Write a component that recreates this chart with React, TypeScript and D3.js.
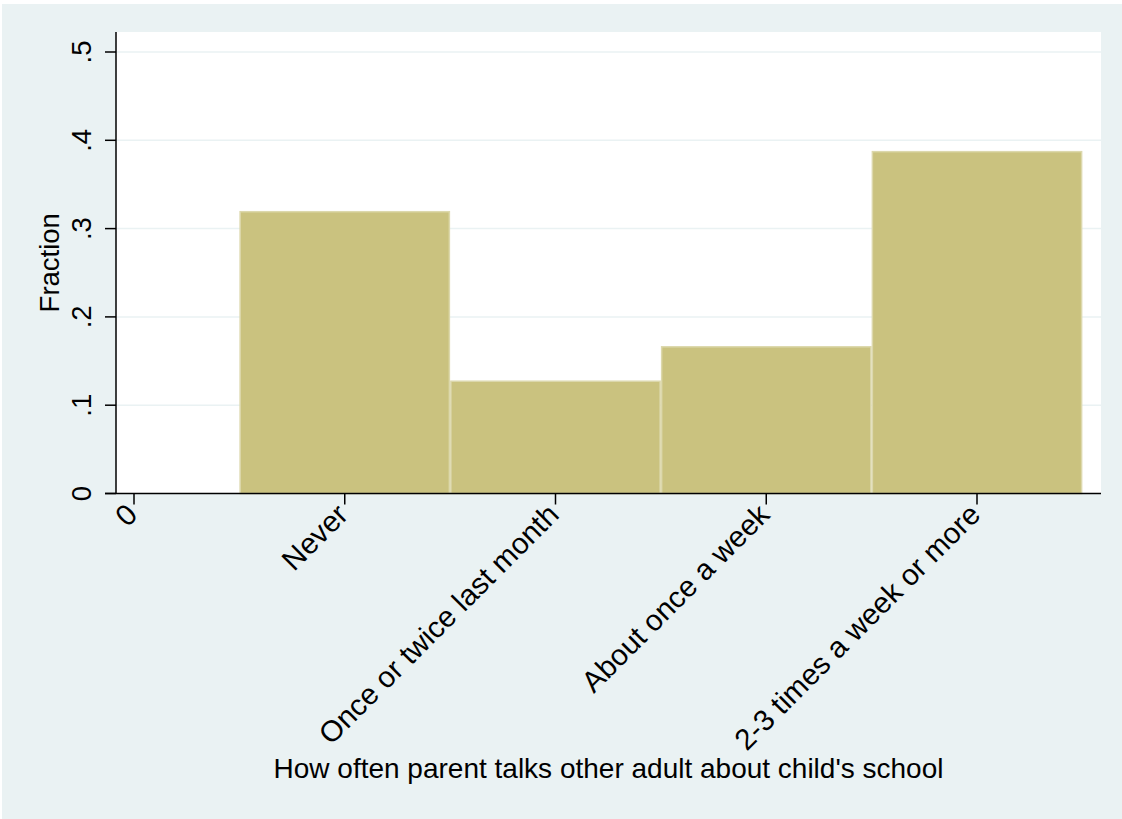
import React from "react";
import * as d3 from "d3";

const categories = ["0", "Never", "Once or twice last month", "About once a week", "2-3 times a week or more"];
const categoryValues = [0, 1, 2, 3, 4];
const barValues = [1, 2, 3, 4];
const fractions = [0.32, 0.128, 0.167, 0.388];
const yTicks = [0, 0.1, 0.2, 0.3, 0.4, 0.5];
const yTickLabels = ["0", ".1", ".2", ".3", ".4", ".5"];
const yTitle = "Fraction";
const xTitle = "How often parent talks other adult about child's school";

const W = 1122;
const H = 819;
const plotLeft = 116;
const plotRight = 1101;
const plotTop = 32;
const plotBottom = 493.5;
const bg = "#eaf2f3";
const font = "'Liberation Sans', Arial, Helvetica, sans-serif";

export default function App() {
  const x = d3.scaleLinear().domain([0, 4]).range([134, 977]);
  const y = d3.scaleLinear().domain([0, 0.5]).range([plotBottom, plotBottom - 5 * 88.3]);

  return (
    <div style={{ position: "fixed", left: 0, top: 0, width: W, height: H, background: "#fff" }}>
      <svg width={W} height={H} style={{ display: "block" }}>
        <rect x={2} y={4} width={W - 2} height={H - 4} fill={bg} />
        <rect x={plotLeft} y={plotTop} width={plotRight - plotLeft} height={plotBottom - plotTop} fill="#ffffff" />
        {yTicks.slice(1).map((t) => (
          <line key={"g" + t} x1={plotLeft} x2={plotRight} y1={y(t)} y2={y(t)} stroke={bg} strokeWidth={1.5} />
        ))}
        {barValues.map((v, i) => {
          const x0 = x(v - 0.5);
          const x1 = x(v + 0.5);
          return (
            <rect
              key={"b" + i}
              x={x0 + 0.75}
              y={y(fractions[i]) + 0.75}
              width={x1 - x0 - 1.5}
              height={plotBottom - y(fractions[i]) - 0.75}
              fill="#cac27f"
              stroke="#dcd8ac"
              strokeWidth={1.5}
            />
          );
        })}
        {/* y axis */}
        <line x1={plotLeft} x2={plotLeft} y1={plotTop} y2={plotBottom} stroke="#000" strokeWidth={1.5} />
        {yTicks.map((t, i) => (
          <g key={"yt" + i}>
            <line x1={105} x2={plotLeft} y1={y(t)} y2={y(t)} stroke="#000" strokeWidth={1.5} />
            <text
              transform={`translate(${90.5},${y(t)}) rotate(-90)`}
              textAnchor="middle"
              fontFamily={font}
              fontSize={27.5}
              fill="#000"
            >
              {yTickLabels[i]}
            </text>
          </g>
        ))}
        <text
          transform={`translate(${59},${(plotTop + plotBottom) / 2}) rotate(-90)`}
          textAnchor="middle"
          fontFamily={font}
          fontSize={27.5}
          fill="#000"
        >
          {yTitle}
        </text>
        {/* x axis */}
        <line x1={105} x2={plotRight} y1={plotBottom} y2={plotBottom} stroke="#000" strokeWidth={1.5} />
        {categoryValues.map((v, i) => (
          <g key={"xt" + i}>
            <line x1={x(v)} x2={x(v)} y1={plotBottom} y2={plotBottom + 11} stroke="#000" strokeWidth={1.5} />
            <text
              transform={`translate(${x(v) + 5},${plotBottom + 23}) rotate(-45)`}
              textAnchor="end"
              fontFamily={font}
              fontSize={29.5}
              fill="#000"
            >
              {categories[i]}
            </text>
          </g>
        ))}
        <text
          x={(plotLeft + plotRight) / 2}
          y={778}
          textAnchor="middle"
          fontFamily={font}
          fontSize={28}
          fill="#000"
        >
          {xTitle}
        </text>
      </svg>
    </div>
  );
}
